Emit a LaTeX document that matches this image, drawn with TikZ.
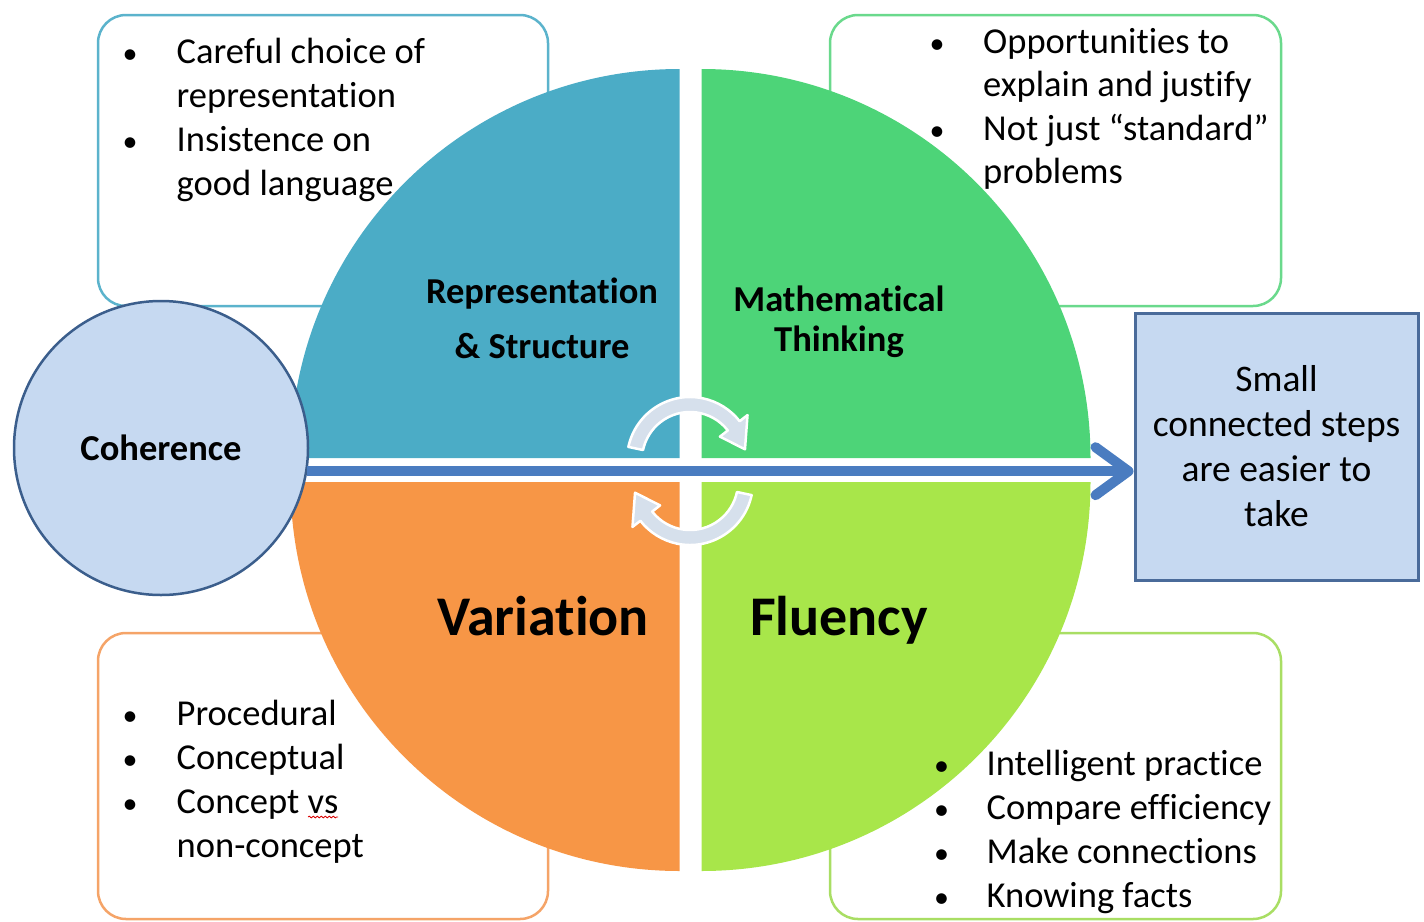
\documentclass[tikz,border=0pt]{standalone}
\usepackage{fontspec}
\setmainfont{Carlito}[Ligatures={NoCommon,NoContextual},Contextuals={NoAlternate}]
\usetikzlibrary{arrows.meta,decorations.pathmorphing}
\definecolor{qblue}{HTML}{4BACC6}
\definecolor{qgreen}{HTML}{4DD478}
\definecolor{qorange}{HTML}{F79646}
\definecolor{qlime}{HTML}{A8E64A}
\definecolor{cohfill}{HTML}{C6D9F1}
\definecolor{cohdraw}{HTML}{3B5E8C}
\definecolor{arrowblue}{HTML}{4A7CC0}
\definecolor{boxdraw}{HTML}{4A6B9A}
\definecolor{cyc}{HTML}{D6E0EC}
\definecolor{tlc}{HTML}{5BB3CC}
\definecolor{trc}{HTML}{6AD98C}
\definecolor{blc}{HTML}{F5A468}
\definecolor{brc}{HTML}{A9DE64}
\begin{document}
\begin{tikzpicture}[x=1pt,y=1pt,
  listbox/.style={rectangle, rounded corners=28pt, line width=2.5pt, fill=white, inner sep=0pt},
  item/.style={anchor=base west, inner sep=0pt, font=\fontsize{36.5}{44}\selectfont},
  bul/.style={anchor=base, inner sep=0pt, font=\fontsize{30}{36}\selectfont},
  qlabel/.style={anchor=base, inner sep=0pt, font=\bfseries\fontsize{36.5}{44}\selectfont},
  biglabel/.style={anchor=base, inner sep=0pt, font=\bfseries\fontsize{56}{66}\selectfont},
  cycarrow/.style={fill=cyc, draw=white, line width=2.5pt, line join=round},
]
\useasboundingbox (0,-921) rectangle (1424,0);

% list boxes
\node[listbox, draw=tlc, minimum width=450pt, minimum height=291pt] (tlbox) at (323,-160.5) {};
\node[listbox, draw=trc, minimum width=451pt, minimum height=291pt] (trbox) at (1055.5,-160.5) {};
\node[listbox, draw=blc, minimum width=450pt, minimum height=286pt] (blbox) at (323,-776) {};
\node[listbox, draw=brc, minimum width=451pt, minimum height=286pt] (brbox) at (1055.5,-776) {};

% quadrants
\fill[qblue] (679.5,-458) -- (290.5,-458) arc[start angle=180,end angle=90,radius=389pt] -- cycle;
\fill[qgreen] (701.5,-458) -- (1090.5,-458) arc[start angle=0,end angle=90,radius=389pt] -- cycle;
\fill[qorange] (679.5,-482) -- (290.5,-482) arc[start angle=180,end angle=270,radius=389pt] -- cycle;
\fill[qlime] (701.5,-482) -- (1090.5,-482) arc[start angle=0,end angle=-90,radius=389pt] -- cycle;

% cycle arrows
\foreach \cx/\cy/\rot in {690/-460/0, 690/-482/180}{
  \begin{scope}[shift={(\cx,\cy)}, rotate=\rot]
    \filldraw[cycarrow] (168:63pt) arc[start angle=168,end angle=38,radius=63pt]
      -- (38:73pt) -- (11:56pt) -- (38:38pt) -- (38:48pt)
      arc[start angle=38,end angle=168,radius=48pt] -- cycle;
  \end{scope}
}

% quadrant labels
\node[qlabel] (rep1) at (542,-303.5) {Representation};
\node[qlabel] (rep2) at (542,-358) {\& Structure};
\node[qlabel] (math1) at (839,-311.5) {Mathematical};
\node[qlabel] (math2) at (839,-351.5) {Thinking};
\node[biglabel] (var) at (543,-635) {Variation};
\node[biglabel] (flu) at (839,-635) {Fluency};

% coherence and steps
\node[circle, fill=cohfill, draw=cohdraw, line width=2.5pt, minimum size=294pt, inner sep=0pt,
      font=\bfseries\fontsize{36.5}{44}\selectfont] (coh) at (161,-448) {Coherence};
\node[rectangle, fill=cohfill, draw=boxdraw, line width=3pt, minimum width=283pt, minimum height=267pt,
      align=center, inner sep=0pt, font=\fontsize{37.5}{45}\selectfont] (steps) at (1276.5,-446.5)
      {Small\\connected steps\\are easier to\\take};
\draw[arrowblue, line width=10pt, -{Straight Barb[length=33pt,width=48pt,round]}]
  (coh.-9) -- (coh.-9 -| steps.west);

% top-left list
\node[bul] (b11) at (130,-63) {•};
\node[bul] (b12) at (130,-151.6) {•};
\node[item] (t11) at (176.5,-63) {Careful choice of};
\node[item] (t12) at (176.5,-107.3) {representation};
\node[item] (t13) at (176.5,-151.6) {Insistence on};
\node[item] (t14) at (176.5,-195.9) {good language};

% top-right list
\node[bul] (b21) at (937,-53) {•};
\node[bul] (b22) at (937,-140) {•};
\node[item] (t21) at (983,-53) {Opportunities to};
\node[item] (t22) at (983,-96.5) {explain and justify};
\node[item] (t23) at (983,-140) {Not just “standard”};
\node[item] (t24) at (983,-183.5) {problems};

% bottom-left list
\node[bul] (b31) at (130,-725) {•};
\node[bul] (b32) at (130,-769) {•};
\node[bul] (b33) at (130,-813) {•};
\node[item] (t31) at (176.5,-725) {Procedural};
\node[item] (t32) at (176.5,-769) {Conceptual};
\node[item] (t33) at (176.5,-813) {Concept vs};
\node[item] (t34) at (176.5,-857) {non-concept};
\draw[red!85!black, line width=0.8pt, decorate, decoration={snake, amplitude=0.9pt, segment length=4pt}]
  (308,-817) -- (338,-817);

% bottom-right list
\node[bul] (b41) at (941.5,-775) {•};
\node[bul] (b42) at (941.5,-819) {•};
\node[bul] (b43) at (941.5,-863) {•};
\node[bul] (b44) at (941.5,-907) {•};
\node[item] (t41) at (986.5,-775) {Intelligent practice};
\node[item] (t42) at (986.5,-819) {Compare efficiency};
\node[item] (t43) at (986.5,-863) {Make connections};
\node[item] (t44) at (986.5,-907) {Knowing facts};
\end{tikzpicture}
\end{document}
